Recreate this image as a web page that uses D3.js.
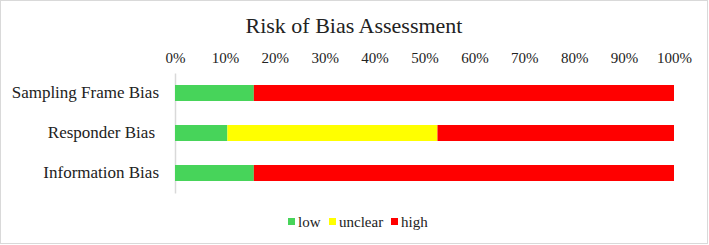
<!DOCTYPE html>
<html><head><meta charset="utf-8">
<script src="https://cdn.jsdelivr.net/npm/d3@7"></script>
<style>body{margin:0;background:#fff}svg{display:block}</style>
</head><body>
<svg id="c" width="709" height="245"></svg>
<script>
const categories = ["Sampling Frame Bias", "Responder Bias", "Information Bias"];
const seriesNames = ["low", "unclear", "high"];
const low = [15.8, 10.5, 15.8];
const unclear = [0, 42.1, 0];
const high = [84.2, 47.4, 84.2];
const tickValues = [0,10,20,30,40,50,60,70,80,90,100];
const colors = ["#47d45a", "#ffff00", "#ff0000"];
const FONT = "Liberation Serif";

const svg = d3.select("#c");
svg.append("rect").attr("x",0.5).attr("y",0.5).attr("width",707).attr("height",243)
  .attr("fill","#fff").attr("stroke","#d9d9d9");

const x = d3.scaleLinear().domain([0,100]).range([175,674]);
const y = d3.scaleBand().domain(categories).range([73,193]).paddingInner(0.6).paddingOuter(0.3);

svg.append("text").attr("x",354).attr("y",33).attr("text-anchor","middle")
  .attr("font-family",FONT).attr("font-size",22).attr("fill","#222").text("Risk of Bias Assessment");

const xAxis = svg.append("g").attr("transform","translate(0,63)")
  .call(d3.axisTop(x).tickValues(tickValues).tickFormat(d=>d+"%").tickSize(0).tickPadding(0));
xAxis.select(".domain").remove();
xAxis.selectAll("text").attr("font-family",FONT).attr("font-size",15).attr("dy",0).attr("fill","#222");

const yAxis = svg.append("g").attr("transform","translate(175,0)")
  .call(d3.axisLeft(y).tickSize(0).tickPadding(16));
yAxis.select(".domain").attr("stroke","#d9d9d9").attr("stroke-width",1.5);
yAxis.selectAll("text").attr("font-family",FONT).attr("font-size",17).attr("fill","#222")
  .attr("dx",(d,i)=>i===1?-4:0);

const rows = categories.map((c,i)=>({cat:c, vals:[low[i],unclear[i],high[i]]}));
const stackData = rows.map(r=>{const o={cat:r.cat}; seriesNames.forEach((s,j)=>o[s]=r.vals[j]); return o;});
const stacked = d3.stack().keys(seriesNames)(stackData);
svg.append("g").selectAll("g").data(stacked).join("g").attr("fill",(d,i)=>colors[i])
  .selectAll("rect").data(d=>d).join("rect")
  .attr("x",d=>x(d[0])).attr("width",d=>x(d[1])-x(d[0]))
  .attr("y",d=>y(d.data.cat)).attr("height",y.bandwidth());

const legendX = [288, 329, 391];
const lg = svg.append("g");
seriesNames.forEach((s,i)=>{
  lg.append("rect").attr("x",legendX[i]).attr("y",218).attr("width",7).attr("height",7).attr("fill",colors[i]);
  lg.append("text").attr("x",legendX[i]+10).attr("y",227).attr("font-family",FONT).attr("font-size",15).attr("fill","#222").text(s);
});
</script>
</body></html>
